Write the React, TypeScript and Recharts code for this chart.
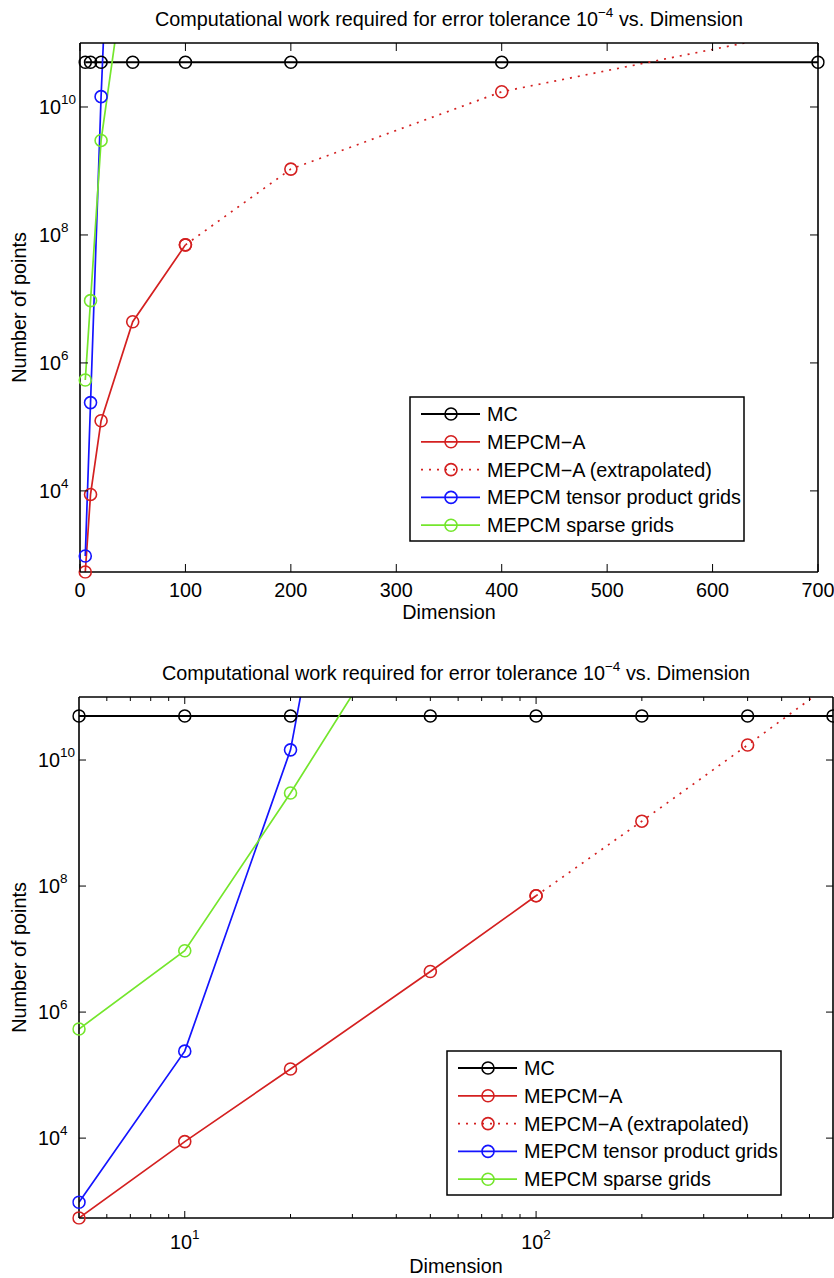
import React from 'react'
import { LineChart, Line, XAxis, YAxis, Legend } from 'recharts'

const FONT = '"Liberation Sans", Arial, Helvetica, sans-serif'
const FS = 19.8
const SUP = 13.5
const INK = '#000'

// values (dimension -> number of points)
const mcDims = [5, 10, 20, 50, 100, 200, 400, 700]
const mcPoints = [5e10, 5e10, 5e10, 5e10, 5e10, 5e10, 5e10, 5e10]
const mepcmDims = [5, 10, 20, 50, 100]
const mepcmPoints = [540, 8800, 1.25e5, 4.4e6, 7e7]
const extrapDims = [100, 200, 400, 700]
const extrapPoints = [7e7, 1.07e9, 1.73e10, 1.7e11]
const tensorDims = [5, 10, 20, 50]
const tensorPoints = [960, 2.4e5, 1.45e10, 1e22]
const sparseDims = [5, 10, 20, 50]
const sparsePoints = [5.4e5, 9.4e6, 3e9, 1e13]

const yDomain = [540, 1e11]
const yTicks = [1e4, 1e6, 1e8, 1e10]
const linearXDomain = [0, 700]
const linearXTicks = [0, 100, 200, 300, 400, 500, 600, 700]
const logXDomain = [5, 700]
const logXTicks = [6, 7, 8, 9, 10, 20, 30, 40, 50, 60, 70, 80, 90, 100, 200, 300, 400, 500, 600]
const logXMajor = [10, 100]

const rows = (xs: number[], ys: number[]) => xs.map((d, i) => ({ d, n: ys[i] }))

const series = [
  { name: 'MC', color: '#000000', dotted: false, sw: 2, data: rows(mcDims, mcPoints) },
  { name: 'MEPCM\u2212A', color: '#d42020', dotted: false, sw: 1.7, data: rows(mepcmDims, mepcmPoints) },
  { name: 'MEPCM\u2212A (extrapolated)', color: '#d42020', dotted: true, sw: 1.7, data: rows(extrapDims, extrapPoints) },
  { name: 'MEPCM tensor product grids', color: '#1414ff', dotted: false, sw: 1.7, data: rows(tensorDims, tensorPoints) },
  { name: 'MEPCM sparse grids', color: '#74e62c', dotted: false, sw: 1.7, data: rows(sparseDims, sparsePoints) },
]

const DOTS = '2 6'

function LegendBox() {
  return (
    <svg width={338} height={148} style={{ display: 'block' }}>
      <rect x={1} y={1} width={334} height={144} fill="#fff" stroke={INK} strokeWidth={1.5} />
      {series.map((s, i) => {
        const cy = 18 + i * 27.8
        return (
          <g key={s.name}>
            <line x1={12} x2={71} y1={cy} y2={cy} stroke={s.color} strokeWidth={s.sw}
              strokeDasharray={s.dotted ? DOTS : undefined} />
            <circle cx={42} cy={cy} r={6} fill="none" stroke={s.color} strokeWidth={1.6} />
            <text x={78} y={cy + 7} fontFamily={FONT} fontSize={FS} fill={INK}>{s.name}</text>
          </g>
        )
      })}
    </svg>
  )
}

function Panel({ logX, width, height, margin, yAxisWidth, tickLen, xLabelGap, xTickGap, legendLeft, legendTop }: any) {
  // axes on the top and right take 1px each
  const plotLeft = margin.left + yAxisWidth
  const plotRight = width - margin.right - 1
  const plotTop = margin.top + 1
  const plotBottom = height - margin.bottom - 1
  const midX = (plotLeft + plotRight) / 2
  const midY = (plotTop + plotBottom) / 2
  const xDomain = logX ? logXDomain : linearXDomain
  const xTicks = logX ? logXTicks : linearXTicks
  const isMajor = (v: number) => !logX || logXMajor.includes(v)

  const bottomTick = (p: any) => {
    const { x, y, payload } = p
    const v = payload.value
    const len = isMajor(v) ? tickLen : 4
    return (
      <g>
        <line x1={x} x2={x} y1={y} y2={y - len} stroke={INK} strokeWidth={1} />
        {isMajor(v) && (logX ? (
          <text x={x} y={y + xTickGap} textAnchor="middle" fontFamily={FONT} fontSize={FS} fill={INK}>
            10<tspan dy={-10} fontSize={SUP}>{Math.round(Math.log10(v))}</tspan>
          </text>
        ) : (
          <text x={x} y={y + xTickGap} textAnchor="middle" fontFamily={FONT} fontSize={FS} fill={INK}>{v}</text>
        ))}
      </g>
    )
  }
  const topTick = (p: any) => {
    const { x, y, payload } = p
    const len = isMajor(payload.value) ? tickLen : 4
    return <line x1={x} x2={x} y1={y} y2={y + len} stroke={INK} strokeWidth={1} />
  }
  const leftTick = (p: any) => {
    const { x, y, payload } = p
    return (
      <g>
        <line x1={x} x2={x + tickLen} y1={y} y2={y} stroke={INK} strokeWidth={1} />
        <text x={x - 41} y={y + 7} fontFamily={FONT} fontSize={FS} fill={INK}>
          10<tspan dy={-10} fontSize={SUP}>{Math.round(Math.log10(payload.value))}</tspan>
        </text>
      </g>
    )
  }
  const rightTick = (p: any) => {
    const { x, y } = p
    return <line x1={x - tickLen} x2={x} y1={y} y2={y} stroke={INK} strokeWidth={1} />
  }

  const title = () => (
    <text x={midX} y={plotTop - 17} textAnchor="middle" fontFamily={FONT} fontSize={FS} fill={INK}>
      Computational work required for error tolerance 10
      <tspan dy={-9} fontSize={SUP}>{'\u22124'}</tspan>
      <tspan dy={9}>{' vs. Dimension'}</tspan>
    </text>
  )
  const xLabel = () => (
    <text x={midX} y={plotBottom + xLabelGap} textAnchor="middle" fontFamily={FONT} fontSize={FS} fill={INK}>
      Dimension
    </text>
  )
  const yLabel = () => (
    <text transform={`translate(26, ${midY}) rotate(-90)`} textAnchor="middle" fontFamily={FONT} fontSize={FS} fill={INK}>
      Number of points
    </text>
  )

  const axisLine = { stroke: INK, strokeWidth: 1.6 }
  const common = { type: 'number' as const, allowDataOverflow: true, tickLine: false, tickSize: 0, tickMargin: 0, axisLine, interval: 0 as const }

  return (
    <LineChart width={width} height={height} margin={margin}>
      <XAxis xAxisId="b" dataKey="d" scale={logX ? 'log' : 'linear'} domain={xDomain} ticks={xTicks}
        height={1} tick={bottomTick} label={xLabel} {...common} />
      <XAxis xAxisId="t" dataKey="d" orientation="top" scale={logX ? 'log' : 'linear'} domain={xDomain} ticks={xTicks}
        height={1} tick={topTick} label={title} {...common} />
      <YAxis yAxisId="l" dataKey="n" scale="log" domain={yDomain} ticks={yTicks} width={yAxisWidth}
        tick={leftTick} label={yLabel} {...common} />
      <YAxis yAxisId="r" dataKey="n" orientation="right" scale="log" domain={yDomain} ticks={yTicks} width={1}
        tick={rightTick} {...common} />
      {series.map((s, i) => (
        <Line
          key={s.name}
          name={s.name}
          data={s.data}
          dataKey="n"
          xAxisId={i === 0 ? 't' : 'b'}
          yAxisId={i === 0 ? 'r' : 'l'}
          stroke={s.color}
          strokeWidth={s.sw}
          strokeDasharray={s.dotted ? DOTS : undefined}
          dot={{ r: 6, fill: 'none', stroke: s.color, strokeWidth: 1.6, strokeDasharray: 'none', clipDot: false }}
          activeDot={false}
          isAnimationActive={false}
        />
      ))}
      <Legend layout="horizontal" verticalAlign="middle" align="center" content={() => <LegendBox />}
        wrapperStyle={{ position: 'absolute', left: legendLeft, top: legendTop, width: 338, height: 148 }} />
    </LineChart>
  )
}

export default function App() {
  return (
    <div style={{ position: 'absolute', left: 0, top: 0, width: 834, height: 1278, background: '#fff' }}>
      <div style={{ position: 'absolute', left: 0, top: 0 }}>
        <Panel logX={false} width={834} height={640} margin={{ top: 42, right: 15, bottom: 67, left: 0 }}
          yAxisWidth={80} tickLen={8} xTickGap={25} xLabelGap={47} legendLeft={408.5} legendTop={396} />
      </div>
      <div style={{ position: 'absolute', left: 0, top: 655 }}>
        <Panel logX={true} width={834} height={623} margin={{ top: 41, right: 0, bottom: 59, left: 0 }}
          yAxisWidth={79} tickLen={7} xTickGap={31} xLabelGap={55} legendLeft={446} legendTop={394.5} />
      </div>
    </div>
  )
}
